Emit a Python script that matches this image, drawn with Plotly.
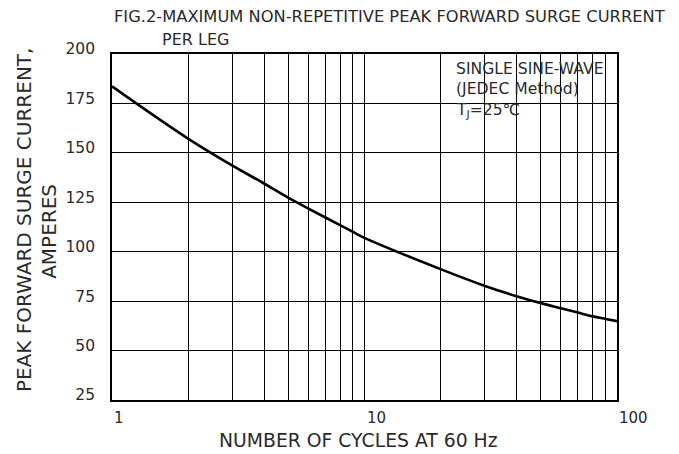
import math
import plotly.graph_objects as go

# Data
cycles = [1, 2, 3, 4, 5, 6, 7, 8, 9, 10, 20, 30, 40, 50, 60, 70, 80, 90, 100]
surge_amps = [183.6, 157.2, 143.5, 134.5, 127.2, 121.8, 117.3, 113.4, 110.0, 107.0,
              91.2, 82.7, 77.5, 74.0, 71.4, 69.2, 67.3, 66.0, 64.9]

x_gridvals = [1, 2, 3, 4, 5, 6, 7, 8, 9, 10, 20, 30, 40, 50, 60, 70, 80, 90, 100]
x_labelvals = [1, 10, 100]
x_labeltext = ["1", "10", "100"]
y_tickvals = [25, 50, 75, 100, 125, 150, 175, 200]

FONT = "DejaVu Sans, Liberation Sans, Arial, sans-serif"
TXT = "#2a2a2a"

fig = go.Figure()
fig.add_trace(go.Scatter(
    x=cycles, y=surge_amps, mode="lines",
    line=dict(color="black", width=2.6, shape="spline", smoothing=1.0),
    hoverinfo="skip", showlegend=False,
))

fig.update_layout(
    width=671, height=446,
    margin=dict(l=104, r=62, t=46, b=54),
    paper_bgcolor="white", plot_bgcolor="white",
    font=dict(family=FONT, color=TXT),
    xaxis=dict(
        type="log", range=[0, 2], tickvals=x_gridvals, showticklabels=False,
        showgrid=True, gridcolor="black", gridwidth=1.4,
        showline=True, linecolor="black", linewidth=1.6, mirror=True,
        ticks="", zeroline=False, fixedrange=True,
    ),
    yaxis=dict(
        range=[25, 200], tickvals=y_tickvals,
        showgrid=True, gridcolor="black", gridwidth=1.4,
        showline=True, linecolor="black", linewidth=1.6, mirror=True,
        ticks="", tickfont=dict(family=FONT, size=15.5, color=TXT), ticklabelstandoff=12,
        ticklabelshift=-5, zeroline=False, fixedrange=True,
    ),
    shapes=[dict(
        type="rect", xref="paper", yref="y", x0=0.654, x1=1.0, y0=167.7, y1=200,
        fillcolor="white", line=dict(width=0), layer="between",
    )],
)

# x tick labels, left-aligned at their ticks as in the reference
for v, t in zip(x_labelvals, x_labeltext):
    fig.add_annotation(text=t, xref="x", yref="paper", x=math.log10(v), y=0,
                       xanchor="left", yanchor="middle", yshift=-18,
                       showarrow=False, font=dict(family=FONT, size=15, color=TXT))

annots = [
    dict(text="FIG.2-MAXIMUM NON-REPETITIVE PEAK FORWARD SURGE CURRENT",
         x=0.0, y=1.107, size=16.3),
    dict(text="PER LEG", x=0.095, y=1.043, size=16),
    dict(text="SINGLE SINE-WAVE", x=0.677, y=0.957, size=15.6),
    dict(text="(JEDEC Method)", x=0.677, y=0.898, size=15.6),
    dict(text="T<sub>J</sub>=25℃", x=0.677, y=0.836, size=15.6),
]
for a in annots:
    fig.add_annotation(text=a["text"], xref="paper", yref="paper", x=a["x"], y=a["y"],
                       xanchor="left", yanchor="middle", showarrow=False,
                       font=dict(family=FONT, size=a["size"], color=TXT))

fig.add_annotation(text="PEAK FORWARD SURGE CURRENT,", xref="paper", yref="paper",
                   x=0, y=0.520, xshift=-88, textangle=-90, showarrow=False,
                   xanchor="center", yanchor="middle",
                   font=dict(family=FONT, size=20, color=TXT))
fig.add_annotation(text="AMPERES", xref="paper", yref="paper",
                   x=0, y=0.486, xshift=-63, textangle=-90, showarrow=False,
                   xanchor="center", yanchor="middle",
                   font=dict(family=FONT, size=20, color=TXT))
fig.add_annotation(text="NUMBER OF CYCLES AT 60 Hz", xref="paper", yref="paper",
                   x=0.5, y=0, yshift=-40, xshift=-6, showarrow=False,
                   xanchor="center", yanchor="middle",
                   font=dict(family=FONT, size=18.8, color=TXT))

fig.write_html("out.html")
